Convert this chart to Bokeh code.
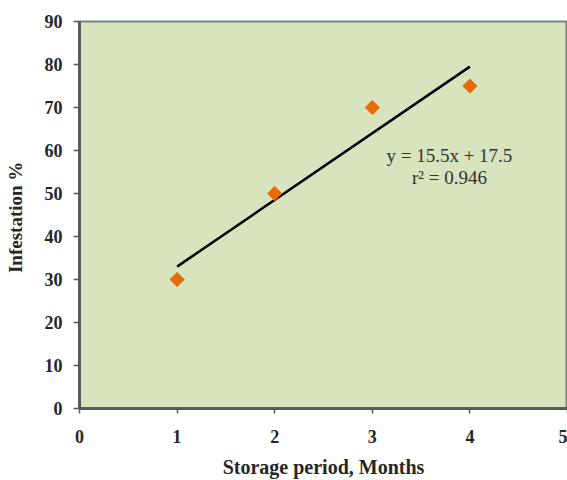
from bokeh.plotting import figure
from bokeh.models import Range1d, FixedTicker, Label
from bokeh.embed import file_html
from bokeh.resources import INLINE

months = [1, 2, 3, 4]
infestation = [30, 50, 70, 75]
slope, intercept = 15.5, 17.5
fit_x = [1, 4]
fit_y = [slope * v + intercept for v in fit_x]
x_ticks = [0, 1, 2, 3, 4, 5]
y_ticks = [0, 10, 20, 30, 40, 50, 60, 70, 80, 90]

p = figure(width=567, height=480, output_backend="svg", toolbar_location=None,
           x_range=Range1d(0, 5), y_range=Range1d(0, 90),
           min_border_left=79, min_border_right=0, min_border_top=21, min_border_bottom=72)
p.background_fill_color = "#D7E4BD"
p.border_fill_color = "white"
p.outline_line_color = "#7F7F7F"
p.outline_line_width = 2
p.xgrid.visible = False
p.ygrid.visible = False

p.line(fit_x, fit_y, line_color="black", line_width=2.5)
p.scatter(months, infestation, marker="square", angle=0.785398, size=10,
          fill_color="#E46C0A", line_color="#E46C0A")

for ax in (p.xaxis[0], p.yaxis[0]):
    ax.axis_line_color = "#595959"
    ax.axis_line_width = 3
    ax.major_tick_line_color = "#595959"
    ax.major_tick_line_width = 1.5
    ax.minor_tick_line_color = None
    ax.major_tick_in = 0
    ax.major_label_text_font = "Liberation Serif"
    ax.major_label_text_font_style = "bold"
    ax.major_label_text_font_size = "18px"
    ax.major_label_text_color = "#262626"
    ax.axis_label_text_font = "Liberation Serif"
    ax.axis_label_text_font_style = "bold"
    ax.axis_label_text_color = "#262626"

p.xaxis.axis_label_text_font_size = "20px"
p.yaxis.axis_label_text_font_size = "19px"
p.xaxis.ticker = FixedTicker(ticks=x_ticks)
p.yaxis.ticker = FixedTicker(ticks=y_ticks)
p.xaxis.major_tick_out = 5
p.yaxis.major_tick_out = 6
p.xaxis.major_label_standoff = 16
p.yaxis.major_label_standoff = 11
p.xaxis.axis_label = "Storage period, Months"
p.yaxis.axis_label = "Infestation  %"
p.xaxis.axis_label_standoff = 10
p.yaxis.axis_label_standoff = 16

p.add_layout(Label(x=3.79, y=58.8, text="y = 15.5x + 17.5", text_align="center", text_baseline="middle",
                   text_font="Liberation Serif", text_font_size="19px", text_color="#333333"))
p.add_layout(Label(x=3.79, y=53.7, text="r² = 0.946", text_align="center", text_baseline="middle",
                   text_font="Liberation Serif", text_font_size="19px", text_color="#333333"))

open("out.html", "w").write(file_html(p, INLINE))
